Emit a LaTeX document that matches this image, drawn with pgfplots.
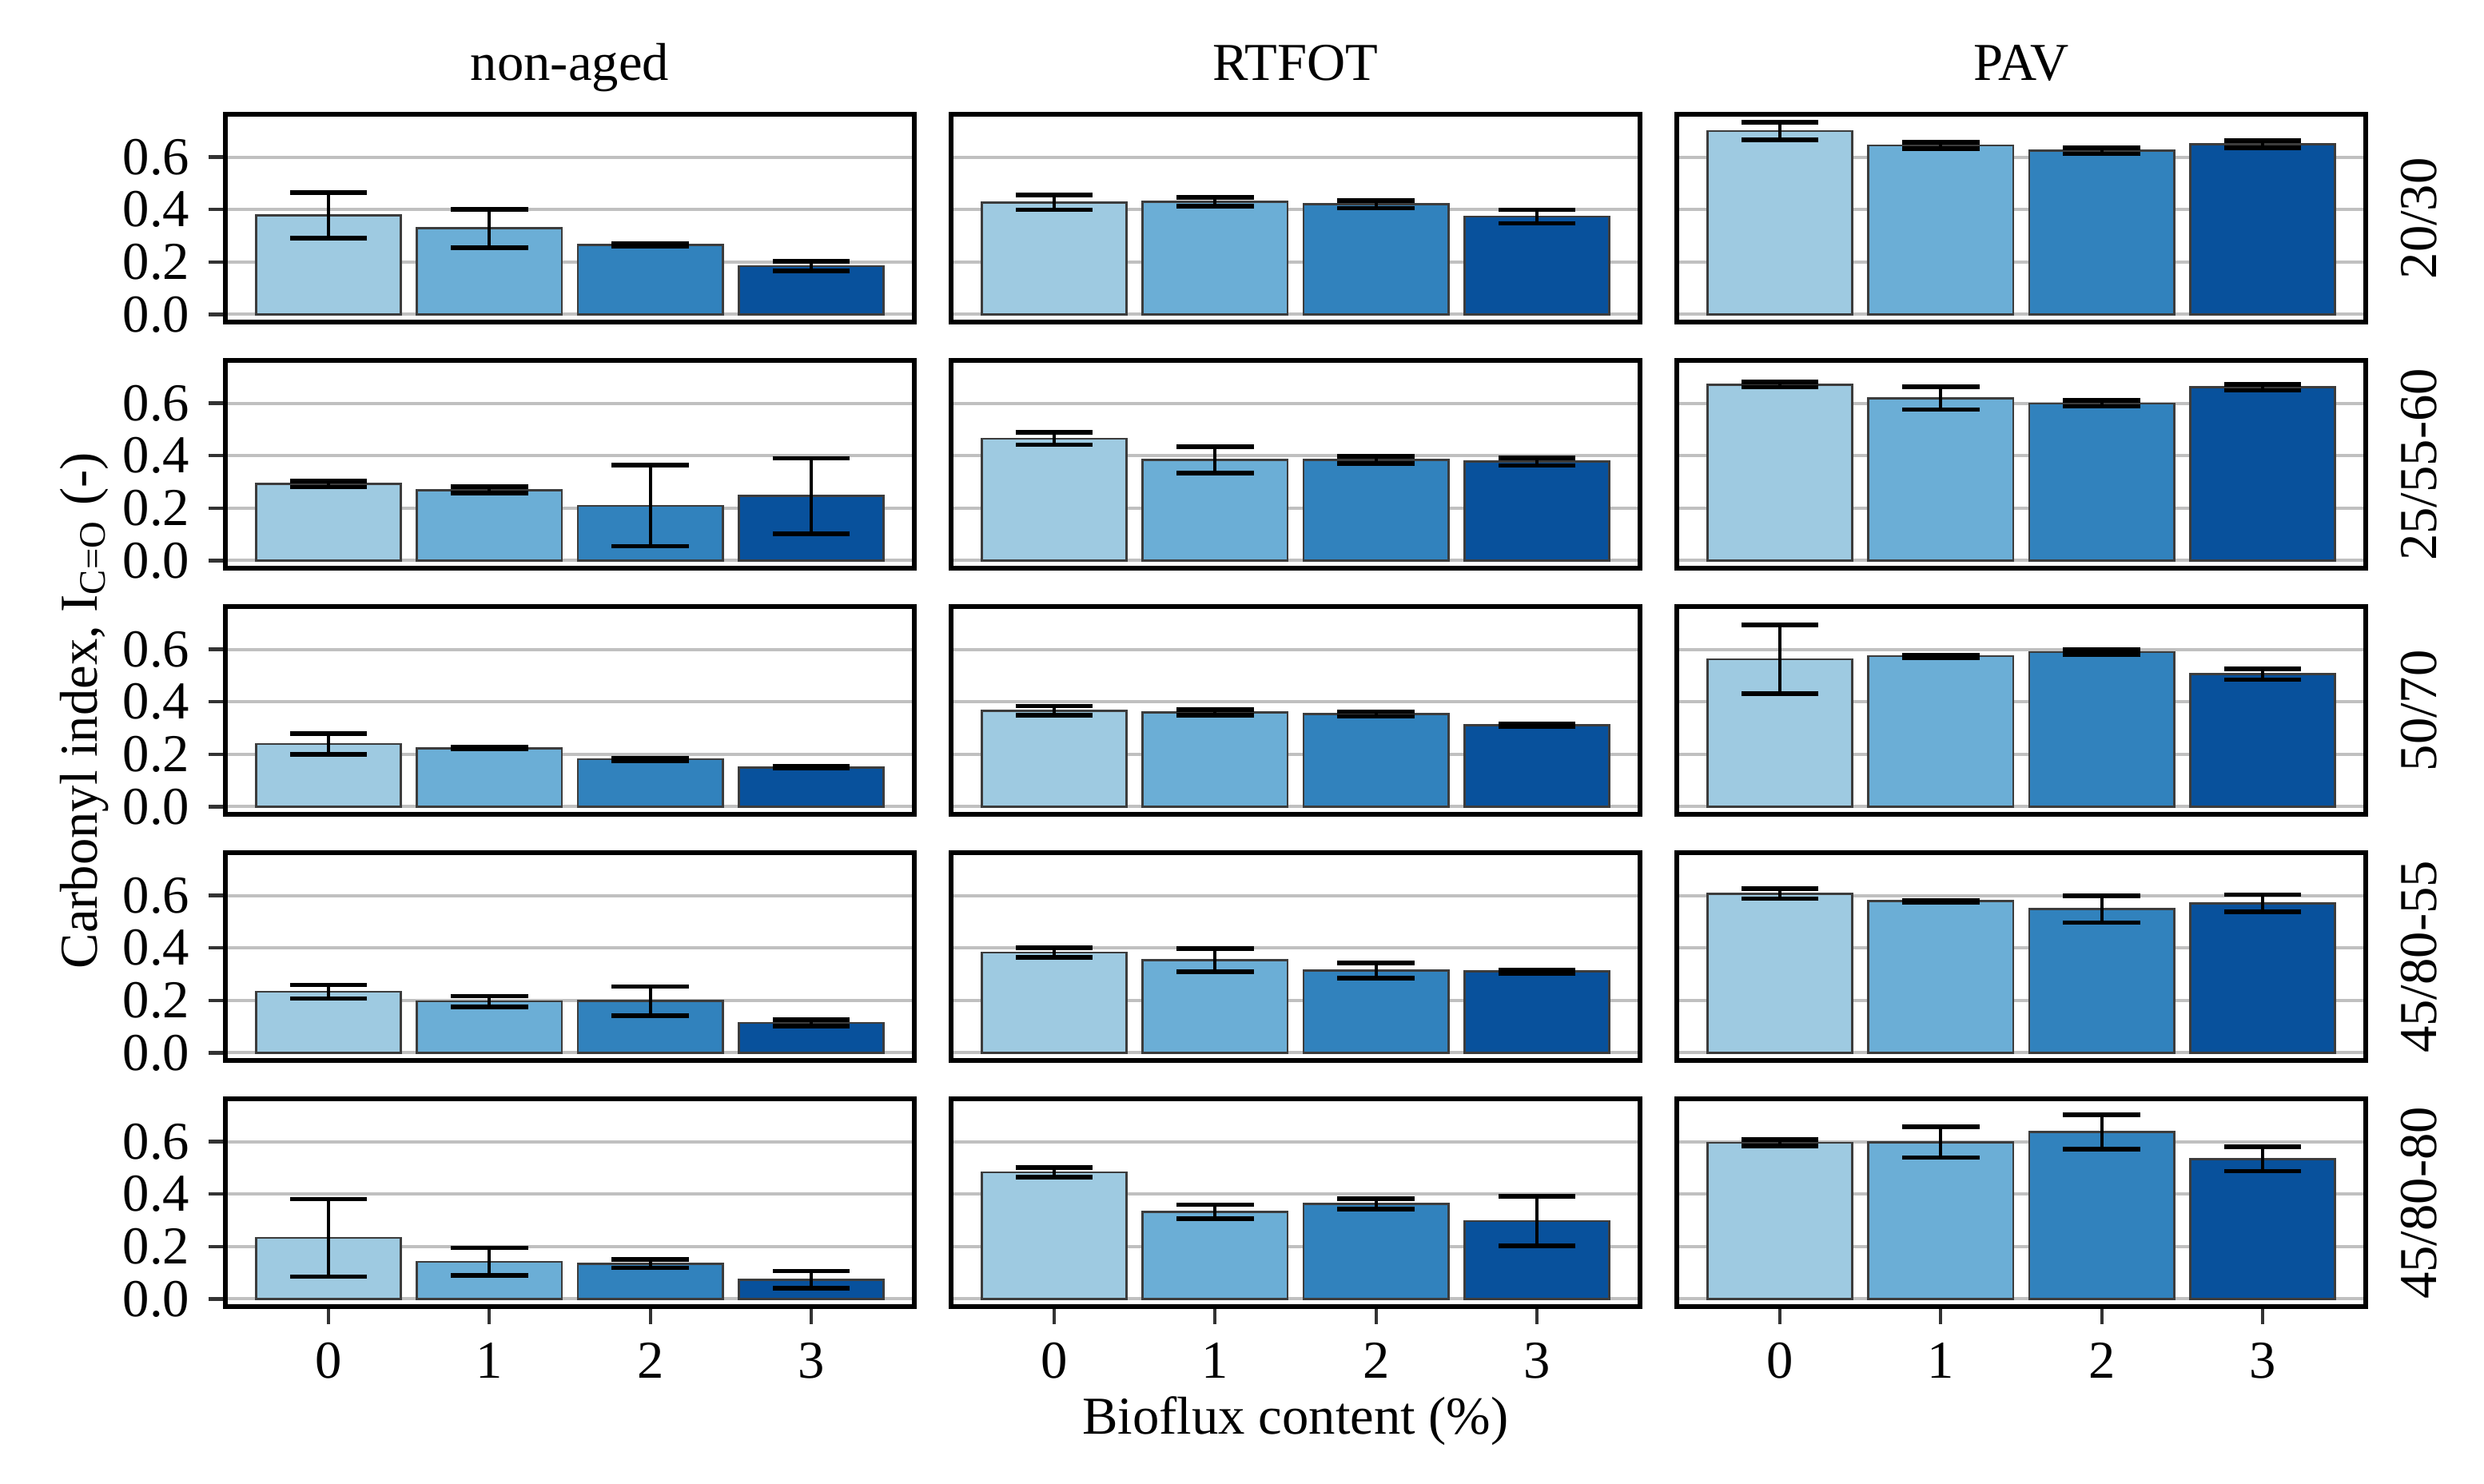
\documentclass[border=0pt]{standalone}
\usepackage{fontspec}
\setmainfont{Liberation Serif}
\usepackage{pgfplots}
\pgfplotsset{compat=1.18}

\definecolor{c0}{HTML}{9ECAE1}
\definecolor{c1}{HTML}{6BAED6}
\definecolor{c2}{HTML}{3182BD}
\definecolor{c3}{HTML}{08519C}
\definecolor{gridc}{RGB}{192,192,192}
\definecolor{tickc}{RGB}{51,51,51}
\definecolor{edgec}{RGB}{60,60,60}

\pgfplotsset{
  /pgf/number format/assume math mode=true,
  panel/.style={
    scale only axis, width=129.3pt, height=39pt, anchor=north west,
    xmin=-0.64, xmax=3.64, ymin=-0.03, ymax=0.762,
    xtick={0,1,2,3}, ytick={0,0.2,0.4,0.6},
    tick align=outside, tick pos=left, major tick length=3.2pt,
    xtick style={draw=none}, ytick style={draw=none},
    ymajorgrids, major grid style={line width=0.6pt, color=gridc},
    axis line style={line width=0.9pt, black},
    yticklabel style={/pgf/number format/.cd, fixed, fixed zerofill, precision=1},
    clip mode=individual,
  },
  left/.style={ytick style={draw=tickc, line width=0.65pt}},
  bottom/.style={xtick style={draw=tickc, line width=0.65pt}},
  nol/.style={yticklabels={}},
  nob/.style={xticklabels={}},
  bar/.style={ybar, bar width=0.9, bar shift=0pt, draw=edgec, line width=0.4pt,
    error bars/.cd, y dir=both, y explicit, error mark=|,
    error bar style={line width=0.55pt, black},
    error mark options={black, line width=0.85pt, mark size=7.25pt}},
  b0/.style={fill=c0, bar},
  b1/.style={fill=c1, bar},
  b2/.style={fill=c2, bar},
  b3/.style={fill=c3, bar},
}

\newcommand{\coltitle}[1]{\node[anchor=base, yshift=6.45pt] at (rel axis cs:0.5,1) {#1};}
\newcommand{\rowlabel}[1]{\node[xshift=13.2pt, rotate=90, anchor=base] at (rel axis cs:1,0.5) {#1};}

\begin{document}
\fontsize{10pt}{12pt}\selectfont
\begin{tikzpicture}
\path[use as bounding box] (-42.3pt,21.5pt) rectangle (423.9pt,-257.05pt);

% ---------- row 1: 20/30 ----------
\begin{axis}[panel, left, nob, at={(0pt,0pt)}]
\addplot[b0] coordinates {(0,0.378) +- (0,0.087)};
\addplot[b1] coordinates {(1,0.328) +- (0,0.073)};
\addplot[b2] coordinates {(2,0.265) +- (0,0.006)};
\addplot[b3] coordinates {(3,0.184) +- (0,0.019)};
\coltitle{non-aged}
\end{axis}
\begin{axis}[panel, nol, nob, at={(136.2pt,0pt)}]
\addplot[b0] coordinates {(0,0.427) +- (0,0.028)};
\addplot[b1] coordinates {(1,0.429) +- (0,0.017)};
\addplot[b2] coordinates {(2,0.420) +- (0,0.015)};
\addplot[b3] coordinates {(3,0.373) +- (0,0.026)};
\coltitle{RTFOT}
\end{axis}
\begin{axis}[panel, nol, nob, at={(272.4pt,0pt)}]
\addplot[b0] coordinates {(0,0.699) +- (0,0.033)};
\addplot[b1] coordinates {(1,0.644) +- (0,0.012)};
\addplot[b2] coordinates {(2,0.624) +- (0,0.012)};
\addplot[b3] coordinates {(3,0.649) +- (0,0.014)};
\coltitle{PAV}
\rowlabel{20/30}
\end{axis}

% ---------- row 2: 25/55-60 ----------
\begin{axis}[panel, left, nob, at={(0pt,-46.2pt)}]
\addplot[b0] coordinates {(0,0.292) +- (0,0.012)};
\addplot[b1] coordinates {(1,0.269) +- (0,0.012)};
\addplot[b2] coordinates {(2,0.209) +- (0,0.154)};
\addplot[b3] coordinates {(3,0.246) +- (0,0.144)};
\end{axis}
\begin{axis}[panel, nol, nob, at={(136.2pt,-46.2pt)}]
\addplot[b0] coordinates {(0,0.465) +- (0,0.023)};
\addplot[b1] coordinates {(1,0.384) +- (0,0.050)};
\addplot[b2] coordinates {(2,0.384) +- (0,0.013)};
\addplot[b3] coordinates {(3,0.377) +- (0,0.015)};
\end{axis}
\begin{axis}[panel, nol, nob, at={(272.4pt,-46.2pt)}]
\addplot[b0] coordinates {(0,0.671) +- (0,0.010)};
\addplot[b1] coordinates {(1,0.619) +- (0,0.043)};
\addplot[b2] coordinates {(2,0.599) +- (0,0.011)};
\addplot[b3] coordinates {(3,0.660) +- (0,0.011)};
\rowlabel{25/55-60}
\end{axis}

% ---------- row 3: 50/70 ----------
\begin{axis}[panel, left, nob, at={(0pt,-92.4pt)}]
\addplot[b0] coordinates {(0,0.239) +- (0,0.039)};
\addplot[b1] coordinates {(1,0.223) +- (0,0.003)};
\addplot[b2] coordinates {(2,0.181) +- (0,0.005)};
\addplot[b3] coordinates {(3,0.150) +- (0,0.004)};
\node[xshift=-24pt, rotate=90, anchor=base] at (rel axis cs:0,0.5) {Carbonyl index, I\textsubscript{C=O} (-)};
\end{axis}
\begin{axis}[panel, nol, nob, at={(136.2pt,-92.4pt)}]
\addplot[b0] coordinates {(0,0.366) +- (0,0.018)};
\addplot[b1] coordinates {(1,0.360) +- (0,0.011)};
\addplot[b2] coordinates {(2,0.353) +- (0,0.009)};
\addplot[b3] coordinates {(3,0.310) +- (0,0.005)};
\end{axis}
\begin{axis}[panel, nol, nob, at={(272.4pt,-92.4pt)}]
\addplot[b0] coordinates {(0,0.562) +- (0,0.132)};
\addplot[b1] coordinates {(1,0.574) +- (0,0.005)};
\addplot[b2] coordinates {(2,0.589) +- (0,0.009)};
\addplot[b3] coordinates {(3,0.505) +- (0,0.021)};
\rowlabel{50/70}
\end{axis}

% ---------- row 4: 45/80-55 ----------
\begin{axis}[panel, left, nob, at={(0pt,-138.6pt)}]
\addplot[b0] coordinates {(0,0.233) +- (0,0.026)};
\addplot[b1] coordinates {(1,0.196) +- (0,0.020)};
\addplot[b2] coordinates {(2,0.197) +- (0,0.056)};
\addplot[b3] coordinates {(3,0.114) +- (0,0.012)};
\end{axis}
\begin{axis}[panel, nol, nob, at={(136.2pt,-138.6pt)}]
\addplot[b0] coordinates {(0,0.382) +- (0,0.018)};
\addplot[b1] coordinates {(1,0.353) +- (0,0.044)};
\addplot[b2] coordinates {(2,0.313) +- (0,0.029)};
\addplot[b3] coordinates {(3,0.310) +- (0,0.007)};
\end{axis}
\begin{axis}[panel, nol, nob, at={(272.4pt,-138.6pt)}]
\addplot[b0] coordinates {(0,0.607) +- (0,0.019)};
\addplot[b1] coordinates {(1,0.578) +- (0,0.004)};
\addplot[b2] coordinates {(2,0.548) +- (0,0.051)};
\addplot[b3] coordinates {(3,0.570) +- (0,0.033)};
\rowlabel{45/80-55}
\end{axis}

% ---------- row 5: 45/80-80 ----------
\begin{axis}[panel, left, bottom, at={(0pt,-184.8pt)}]
\addplot[b0] coordinates {(0,0.233) +- (0,0.148)};
\addplot[b1] coordinates {(1,0.142) +- (0,0.053)};
\addplot[b2] coordinates {(2,0.135) +- (0,0.016)};
\addplot[b3] coordinates {(3,0.074) +- (0,0.033)};
\end{axis}
\begin{axis}[panel, nol, bottom, at={(136.2pt,-184.8pt)}]
\addplot[b0] coordinates {(0,0.483) +- (0,0.019)};
\addplot[b1] coordinates {(1,0.333) +- (0,0.026)};
\addplot[b2] coordinates {(2,0.362) +- (0,0.020)};
\addplot[b3] coordinates {(3,0.297) +- (0,0.094)};
\node[anchor=base, yshift=-23.9pt] at (rel axis cs:0.5,0) {Bioflux content (\%)};
\end{axis}
\begin{axis}[panel, nol, bottom, at={(272.4pt,-184.8pt)}]
\addplot[b0] coordinates {(0,0.596) +- (0,0.012)};
\addplot[b1] coordinates {(1,0.598) +- (0,0.059)};
\addplot[b2] coordinates {(2,0.637) +- (0,0.065)};
\addplot[b3] coordinates {(3,0.534) +- (0,0.047)};
\rowlabel{45/80-80}
\end{axis}

\end{tikzpicture}
\end{document}
